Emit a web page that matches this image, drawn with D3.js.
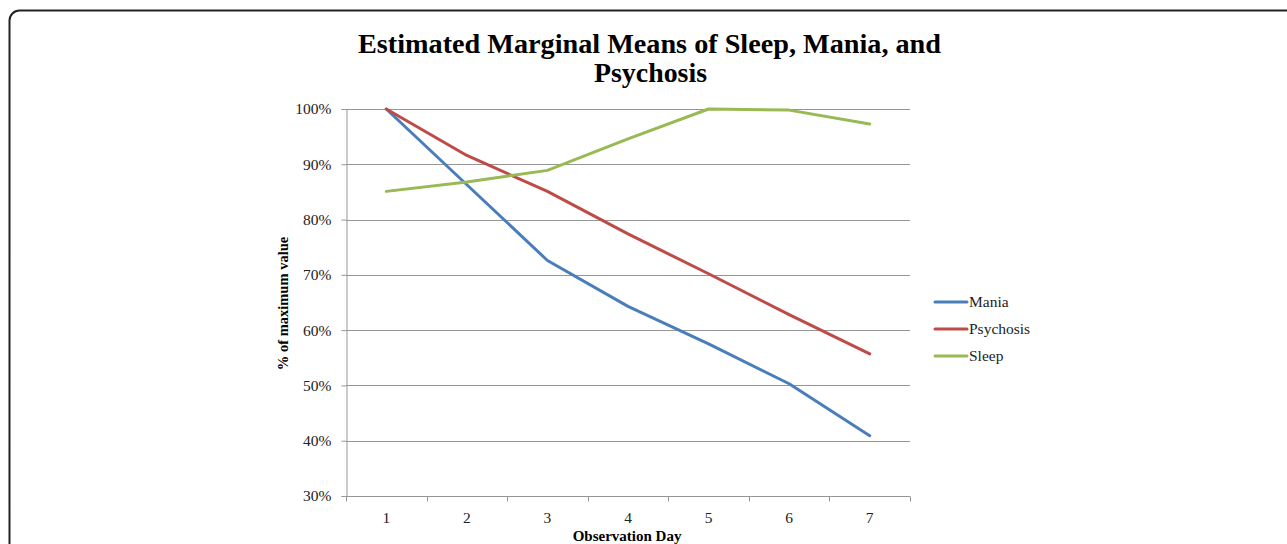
<!DOCTYPE html>
<html>
<head>
<meta charset="utf-8">
<script src="https://cdn.jsdelivr.net/npm/d3@7"></script>
<style>
  body { margin: 0; background: #fff; }
  svg { display: block; font-family: "Liberation Serif", "Times New Roman", serif; }
</style>
</head>
<body>
<div id="chart"></div>
<script>
const days = ["1", "2", "3", "4", "5", "6", "7"];
const mania = [100, 86.3, 72.6, 64.3, 57.5, 50.3, 40.9];
const psychosis = [100, 91.6, 85.1, 77.4, 70.2, 62.8, 55.7];
const sleep = [85.1, 86.8, 88.9, 94.6, 100, 99.8, 97.3];
const yTicks = [30, 40, 50, 60, 70, 80, 90, 100];

const series = [
  { name: "Mania", values: mania, color: "#4a7ebb" },
  { name: "Psychosis", values: psychosis, color: "#be4b48" },
  { name: "Sleep", values: sleep, color: "#98b954" },
];

const width = 1287, height = 544;
const margin = { top: 109, right: 377, bottom: 48, left: 346 };
const innerWidth = width - margin.left - margin.right;
const innerHeight = height - margin.top - margin.bottom;
const serif = "Liberation Serif, Times New Roman, serif";

const svg = d3.select("#chart").append("svg").attr("width", width).attr("height", height);

// outer frame with rounded corner (continues past the right/bottom edge)
svg.append("rect")
  .attr("x", 9.5).attr("y", 10.5)
  .attr("width", 1300).attr("height", 600)
  .attr("rx", 10)
  .attr("fill", "none")
  .attr("stroke", "#222")
  .attr("stroke-width", 2);

// title: tall, condensed glyphs
svg.append("text")
  .attr("x", 358).attr("y", 53)
  .attr("font-size", 27).attr("font-weight", "bold")
  .attr("textLength", 583).attr("lengthAdjust", "spacingAndGlyphs")
  .text("Estimated Marginal Means of Sleep, Mania, and");
svg.append("text")
  .attr("x", 594).attr("y", 82)
  .attr("font-size", 27).attr("font-weight", "bold")
  .attr("textLength", 113).attr("lengthAdjust", "spacingAndGlyphs")
  .text("Psychosis");

const x = d3.scaleBand().domain(days).range([0, innerWidth]);
const y = d3.scaleLinear().domain([30, 100]).range([innerHeight, 0]);

const plot = svg.append("g").attr("transform", `translate(${margin.left},${margin.top})`);

// gridlines
plot.append("g")
  .selectAll("line")
  .data(yTicks.slice(1))
  .join("line")
  .attr("x1", 0).attr("x2", innerWidth)
  .attr("y1", (d) => Math.round(y(d)) + 0.5).attr("y2", (d) => Math.round(y(d)) + 0.5)
  .attr("stroke", "#969696").attr("stroke-width", 1);

// y axis
const yAxis = plot.append("g")
  .attr("transform", "translate(0.5,0)")
  .call(d3.axisLeft(y).tickValues(yTicks).tickSize(5).tickPadding(10).tickFormat((d) => d + "%"));
yAxis.attr("font-family", serif);
yAxis.select(".domain").attr("stroke", "#969696");
yAxis.selectAll(".tick line").attr("stroke", "#969696");
yAxis.selectAll(".tick text").attr("font-size", 15.5).attr("fill", "#222");

// x axis with ticks at category boundaries
const xAxis = plot.append("g").attr("transform", `translate(0,${Math.round(innerHeight) + 0.5})`);
xAxis.append("line")
  .attr("x1", 0).attr("x2", innerWidth)
  .attr("stroke", "#969696");
xAxis.selectAll("line.tk")
  .data(days.concat(["end"]))
  .join("line")
  .attr("class", "tk")
  .attr("x1", (d, i) => Math.round(i * x.step()) + 0.5)
  .attr("x2", (d, i) => Math.round(i * x.step()) + 0.5)
  .attr("y1", 0).attr("y2", 5)
  .attr("stroke", "#969696");
xAxis.selectAll("text")
  .data(days)
  .join("text")
  .attr("x", (d) => x(d) + x.bandwidth() / 2)
  .attr("y", 26)
  .attr("text-anchor", "middle")
  .attr("font-size", 15.5).attr("fill", "#222")
  .text((d) => d);

const line = d3.line()
  .x((d, i) => x(days[i]) + x.bandwidth() / 2)
  .y((d) => y(d));

plot.append("g")
  .selectAll("path")
  .data(series)
  .join("path")
  .attr("d", (s) => line(s.values))
  .attr("fill", "none")
  .attr("stroke", (s) => s.color)
  .attr("stroke-width", 3)
  .attr("stroke-linejoin", "round")
  .attr("stroke-linecap", "round");

// axis titles
svg.append("text")
  .attr("transform", `translate(288,${margin.top + innerHeight / 2 + 1}) rotate(-90)`)
  .attr("text-anchor", "middle")
  .attr("font-size", 14.5).attr("font-weight", "bold")
  .text("% of maximum value");
svg.append("text")
  .attr("x", 627).attr("y", 541)
  .attr("text-anchor", "middle")
  .attr("font-size", 15).attr("font-weight", "bold")
  .text("Observation Day");

// legend
const legend = svg.append("g").attr("transform", "translate(935,302)");
const item = legend.selectAll("g")
  .data(series)
  .join("g")
  .attr("transform", (d, i) => `translate(0,${i * 27})`);
item.append("line")
  .attr("x1", 0).attr("x2", 32)
  .attr("stroke", (d) => d.color)
  .attr("stroke-width", 3)
  .attr("stroke-linecap", "round");
item.append("text")
  .attr("x", 34).attr("y", 5)
  .attr("font-size", 15.5).attr("fill", "#222")
  .text((d) => d.name);
</script>
</body>
</html>
